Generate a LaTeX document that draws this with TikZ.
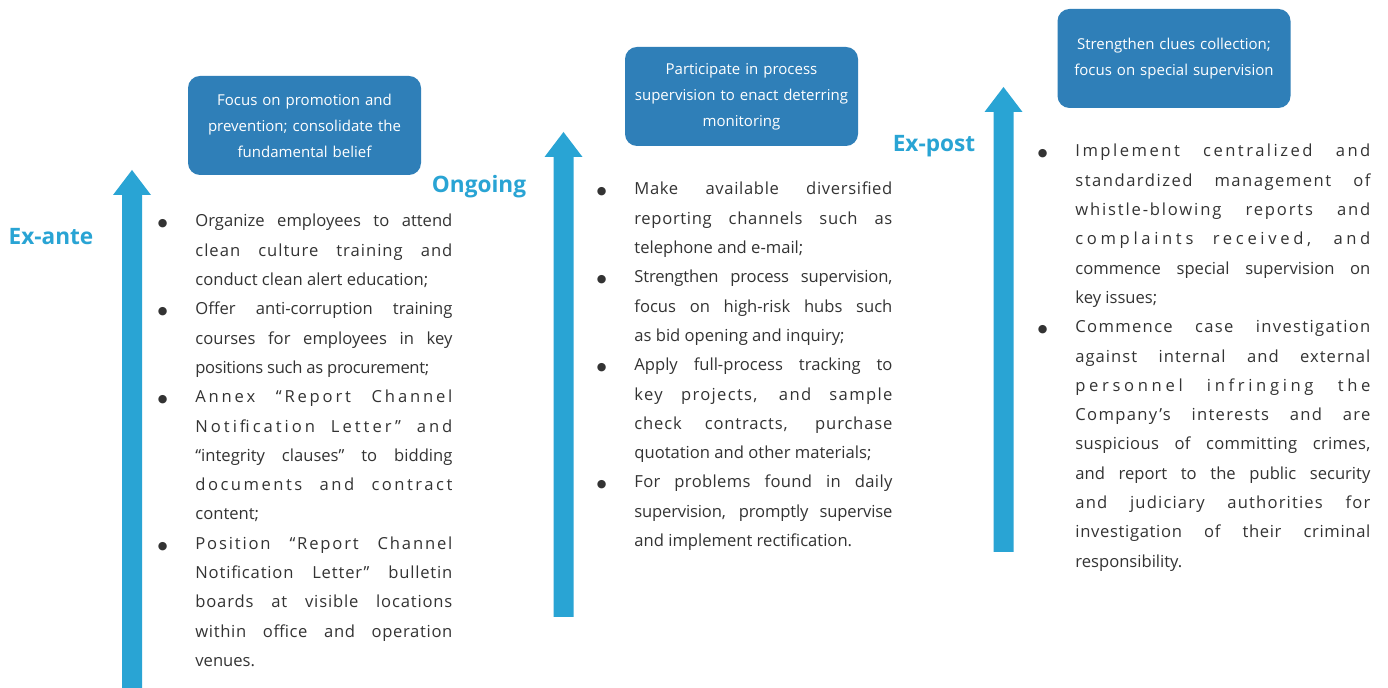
\documentclass[tikz,border=0pt]{standalone}
\usepackage{fontspec}
\setmainfont{Open Sans}
\newfontfamily\dotfont{DejaVu Sans}
\usepackage{tikz}
\usetikzlibrary{calc}
\definecolor{arrowblue}{RGB}{41,164,212}
\definecolor{boxblue}{RGB}{47,127,184}
\definecolor{bodygray}{RGB}{51,51,51}
\def\phasearrow(#1:#2:#3){\fill[arrowblue] (#1-10, #3) -- (#1-10, #2+25) -- (#1-19, #2+25) -- (#1, #2) -- (#1+19, #2+25) -- (#1+10, #2+25) -- (#1+10, #3) -- cycle;}
\def\firstbul{\noindent\llap{{\dotfont\fontsize{5.5}{5.5}\selectfont ●}\hspace{14pt}}}
\def\bul{\par\firstbul}
\def\ls#1#2{{\addfontfeature{LetterSpace=#1}#2}}
\hyphenpenalty=10000
\exhyphenpenalty=10000
\tolerance=10000
\hbadness=10000

\begin{document}
\begin{tikzpicture}[x=0.5pt, y=-0.5pt,
		itemcol/.style={anchor=base west, inner sep=0pt, align=justify, text=bodygray, font=\fontsize{8.3}{14.65}\selectfont},
		aimbox/.style={fill=boxblue, rounded corners=6pt, minimum width=116.5pt, minimum height=49.5pt, inner sep=0pt, text width=112pt, align=center, text=white, font=\fontsize{7.5}{13}\selectfont},
		phaselabel/.style={anchor=base, text=arrowblue, font=\fontsize{11.3}{13}\selectfont\bfseries}]
		%%%%% START %%%%%
		
		\path[fill=white, use as bounding box] (0, 0) rectangle (1388, 688);
		
		\phasearrow(132:170:688)
		\phasearrow(563.5:132:617)
		\phasearrow(1003.5:87:552)
		
		\node[phaselabel] (exante) at (51, 245) {Ex-ante};
		\node[phaselabel] (ongoing) at (479, 193) {Ongoing};
		\node[phaselabel] (expost) at (934, 152) {Ex-post};
		
		\node[aimbox] (exantebox) at (304.5, 125.5) {Focus on promotion and\\prevention; consolidate the\\fundamental belief};
		\node[aimbox] (ongoingbox) at (741.5, 96.5) {Participate in process\\supervision to enact deterring\\monitoring};
		\node[aimbox] (expostbox) at (1174, 58.5) {Strengthen clues collection;\\focus on special supervision};
		
		\node[itemcol, text width=128.5pt] (exantelist) at (195, 227) {%
			\firstbul Organize employees to attend\linebreak \ls{6}{clean culture training and}\linebreak conduct clean alert education;
			\bul Offer anti-corruption training\linebreak courses for employees in key\linebreak \ls{-2}{positions such as procurement;}
			\bul \ls{17}{Annex “Report Channel}\linebreak \ls{18}{Notification Letter” and}\linebreak “integrity clauses” to bidding\linebreak \ls{15}{documents and contract}\linebreak content;
			\bul \ls{11}{Position “Report Channel}\linebreak \ls{5}{Notification Letter” bulletin}\linebreak \ls{5}{boards at visible locations}\linebreak \ls{4}{within office and operation}\linebreak venues.};
		
		\node[itemcol, text width=129pt] (ongoinglist) at (634, 195) {%
			\firstbul \ls{4}{Make available diversified}\linebreak \ls{4}{reporting channels such as}\linebreak telephone and e-mail;
			\bul \ls{-1}{Strengthen process supervision,}\linebreak focus on high-risk hubs such\linebreak as bid opening and inquiry;
			\bul Apply full-process tracking to\linebreak \ls{8}{key projects, and sample}\linebreak \ls{5}{check contracts, purchase}\linebreak quotation and other materials;
			\bul \ls{2}{For problems found in daily}\linebreak \ls{-1}{supervision, promptly supervise}\linebreak and implement rectification.};
		
		\node[itemcol, text width=147.5pt] (expostlist) at (1075, 157) {%
			\firstbul \ls{15}{Implement centralized and}\linebreak \ls{9}{standardized management of}\linebreak \ls{11}{whistle-blowing reports and}\linebreak \ls{22}{complaints received, and}\linebreak commence special supervision on\linebreak key issues;
			\bul \ls{8}{Commence case investigation}\linebreak \ls{6}{against internal and external}\linebreak \ls{22}{personnel infringing the}\linebreak \ls{8}{Company’s interests and are}\linebreak \ls{2}{suspicious of committing crimes,}\linebreak and report to the public security\linebreak \ls{7}{and judiciary authorities for}\linebreak \ls{4}{investigation of their criminal}\linebreak responsibility.};
		
		%%%%% END %%%%%
\end{tikzpicture}
\end{document}
